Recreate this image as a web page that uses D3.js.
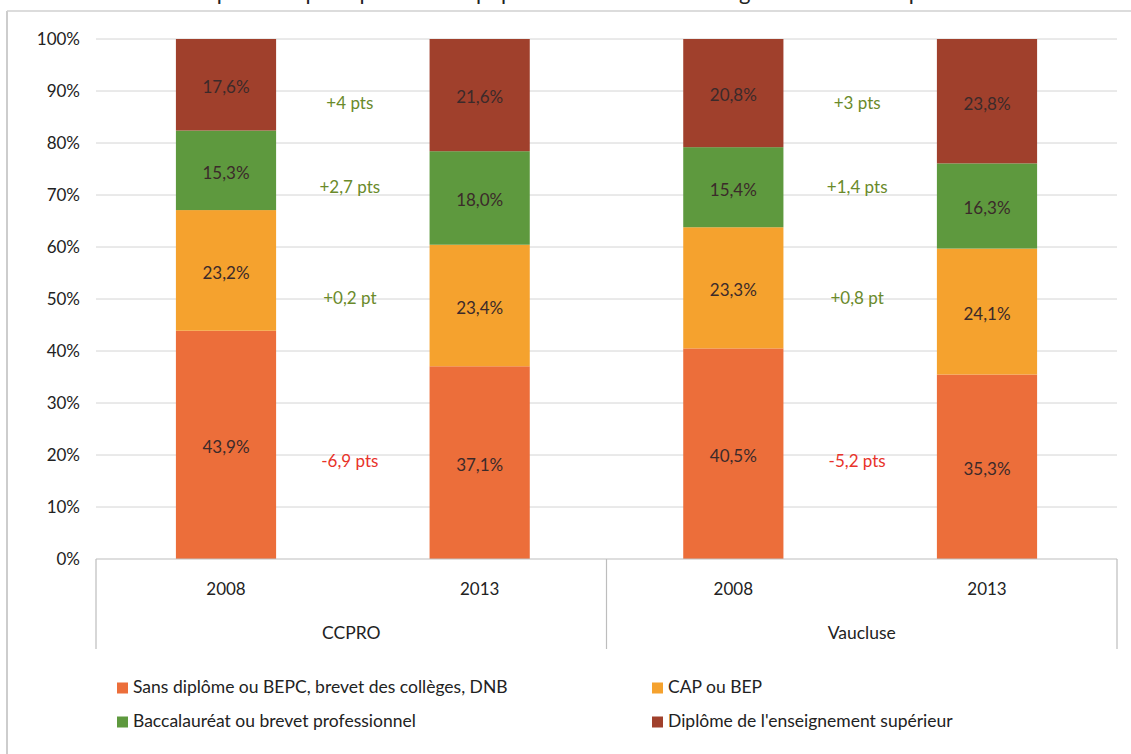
<!DOCTYPE html>
<html>
<head>
<meta charset="utf-8">
<script src="https://cdn.jsdelivr.net/npm/d3@7"></script>
<style>
  html, body { margin: 0; padding: 0; background: #ffffff; }
  svg { display: block; }
  text { font-family: "Lato", "Open Sans", sans-serif; }
</style>
</head>
<body>
<svg id="chart" width="1131" height="754"></svg>
<script>
// Territories and years on the two-level category axis
const groups = ["CCPRO", "Vaucluse"];
const years = ["2008", "2013"];

// Diploma levels, bottom to top of each stacked bar
const levels = [
  "Sans diplôme ou BEPC, brevet des collèges, DNB",
  "CAP ou BEP",
  "Baccalauréat ou brevet professionnel",
  "Diplôme de l'enseignement supérieur"
];
const levelColors = ["#EC6E3A", "#F5A22E", "#5E993E", "#A0402C"];

// Shares (%) per bar, in level order
const ccpro2008 = [43.9, 23.2, 15.3, 17.6];
const ccpro2013 = [37.1, 23.4, 18.0, 21.6];
const vaucluse2008 = [40.5, 23.3, 15.4, 20.8];
const vaucluse2013 = [35.3, 24.1, 16.3, 23.8];

// Change between 2008 and 2013, per level
const ccproChange = ["-6,9 pts", "+0,2 pt", "+2,7 pts", "+4 pts"];
const vaucluseChange = ["-5,2 pts", "+0,8 pt", "+1,4 pts", "+3 pts"];

const yTicks = [0, 0.1, 0.2, 0.3, 0.4, 0.5, 0.6, 0.7, 0.8, 0.9, 1];

const title = "Répartition par diplôme de la population non scolarisée âgée de 15 ans ou plus";

// ---- assemble bars ----
const bars = [
  { group: "CCPRO", year: "2008", values: ccpro2008 },
  { group: "CCPRO", year: "2013", values: ccpro2013 },
  { group: "Vaucluse", year: "2008", values: vaucluse2008 },
  { group: "Vaucluse", year: "2013", values: vaucluse2013 }
].map(d => ({ ...d, key: d.group + "|" + d.year }));

const svg = d3.select("#chart");
const W = 1131, H = 754;
const plot = { left: 96, right: 1117, top: 39, bottom: 559 };

// frame
svg.append("line").attr("x1", 7).attr("x2", 7).attr("y1", 11).attr("y2", H)
  .attr("stroke", "#bdbdbd").attr("stroke-width", 1.5);
svg.append("line").attr("x1", 7).attr("x2", W).attr("y1", 11).attr("y2", 11)
  .attr("stroke", "#d0d0d0").attr("stroke-width", 1.5);

// title (runs off the top edge of the page)
svg.append("text")
  .attr("x", 570).attr("y", 0)
  .attr("text-anchor", "middle")
  .style("font-size", "22px").style("fill", "#222")
  .text(title);

const x = d3.scaleBand()
  .domain(bars.map(d => d.key))
  .range([plot.left, plot.right])
  .paddingInner(0.605).paddingOuter(0.315);

const y = d3.scaleLinear().domain([0, 1]).range([plot.bottom, plot.top]);

// gridlines
svg.append("g")
  .selectAll("line")
  .data(yTicks.filter(t => t > 0))
  .join("line")
  .attr("x1", plot.left).attr("x2", plot.right)
  .attr("y1", d => y(d)).attr("y2", d => y(d))
  .attr("stroke", "#d4d4d4").attr("stroke-width", 1);

// y axis labels
const yAxis = d3.axisLeft(y).tickValues(yTicks).tickSize(0).tickPadding(0)
  .tickFormat(d => Math.round(d * 100) + "%");
const yg = svg.append("g").attr("transform", `translate(${plot.left - 16},0)`).call(yAxis);
yg.select(".domain").remove();
yg.selectAll("text").style("font-size", "17px").style("fill", "#222")
  .style("font-family", "Lato, sans-serif");

// 100 % stacking
const stackData = bars.map(b => {
  const total = d3.sum(b.values);
  const row = { key: b.key };
  levels.forEach((l, i) => { row[l] = b.values[i] / total; row["raw" + i] = b.values[i]; });
  return row;
});
const series = d3.stack().keys(levels)(stackData);

const fmt = v => v.toFixed(1).replace(".", ",") + "%";

const layer = svg.append("g").selectAll("g")
  .data(series)
  .join("g")
  .attr("fill", (d, i) => levelColors[i]);

layer.selectAll("rect")
  .data(d => d.map(p => ({ p, idx: d.index })))
  .join("rect")
  .attr("x", d => x(d.p.data.key))
  .attr("width", x.bandwidth())
  .attr("y", d => y(d.p[1]))
  .attr("height", d => y(d.p[0]) - y(d.p[1]));

layer.selectAll("text")
  .data(d => d.map(p => ({ p, idx: d.index })))
  .join("text")
  .attr("x", d => x(d.p.data.key) + x.bandwidth() / 2)
  .attr("y", d => (y(d.p[0]) + y(d.p[1])) / 2 + 4)
  .attr("text-anchor", "middle")
  .attr("dominant-baseline", "middle")
  .style("font-size", "17px")
  .style("fill", "#3b2a2a")
  .text(d => fmt(d.p.data["raw" + d.idx]));

// change annotations between the two years of each territory
const changeLevels = [0.185, 0.498, 0.713, 0.873];
const changeColor = i => (i === 0 ? "#E8332A" : "#6A8A2A");
[[groups[0], ccproChange], [groups[1], vaucluseChange]].forEach(([g, labels]) => {
  const cx = (x(g + "|2008") + x(g + "|2013") + x.bandwidth()) / 2;
  svg.append("g").selectAll("text")
    .data(labels)
    .join("text")
    .attr("x", cx - 3)
    .attr("y", (d, i) => y(changeLevels[i]))
    .attr("text-anchor", "middle")
    .attr("dominant-baseline", "middle")
    .style("font-size", "17px")
    .style("fill", (d, i) => changeColor(i))
    .text(d => d);
});

// category axis: baseline, group separators, year and group labels
const axisG = svg.append("g");
axisG.append("line")
  .attr("x1", plot.left).attr("x2", plot.right)
  .attr("y1", plot.bottom).attr("y2", plot.bottom)
  .attr("stroke", "#bdbdbd").attr("stroke-width", 1.2);
const sepXs = [plot.left, (plot.left + plot.right) / 2, plot.right];
axisG.selectAll("line.sep")
  .data(sepXs)
  .join("line")
  .attr("class", "sep")
  .attr("x1", d => d).attr("x2", d => d)
  .attr("y1", plot.bottom).attr("y2", 649)
  .attr("stroke", "#bdbdbd").attr("stroke-width", 1.2);

axisG.selectAll("text.year")
  .data(bars)
  .join("text")
  .attr("class", "year")
  .attr("x", d => x(d.key) + x.bandwidth() / 2)
  .attr("y", 591)
  .attr("text-anchor", "middle")
  .attr("dominant-baseline", "middle")
  .style("font-size", "17px").style("fill", "#222")
  .text(d => d.year);

axisG.selectAll("text.group")
  .data(groups)
  .join("text")
  .attr("class", "group")
  .attr("x", (d, i) => (sepXs[i] + sepXs[i + 1]) / 2)
  .attr("y", 635)
  .attr("text-anchor", "middle")
  .attr("dominant-baseline", "middle")
  .style("font-size", "17.5px").style("fill", "#222")
  .text(d => d);

// legend, two columns
const legendPos = [
  { x: 117, y: 688 }, { x: 652, y: 688 },
  { x: 117, y: 722 }, { x: 652, y: 722 }
];
const lg = svg.append("g").selectAll("g")
  .data(levels)
  .join("g")
  .attr("transform", (d, i) => `translate(${legendPos[i].x},${legendPos[i].y})`);
lg.append("rect").attr("x", 0).attr("y", -5.5).attr("width", 11).attr("height", 11)
  .attr("fill", (d, i) => levelColors[i]);
lg.append("text").attr("x", 16).attr("y", 1)
  .attr("dominant-baseline", "middle")
  .style("font-size", "17.5px").style("fill", "#222")
  .text(d => d);
</script>
</body>
</html>
